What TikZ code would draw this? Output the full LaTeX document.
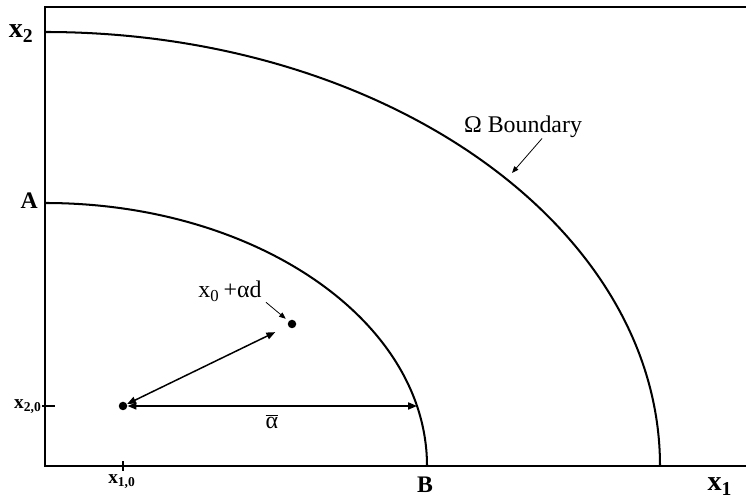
\documentclass[tikz,border=0pt]{standalone}
\usepackage{fontspec}
\setmainfont{Liberation Serif}
\usepackage{tikz}
\usetikzlibrary{arrows.meta, positioning, calc}
\tikzset{
  axis/.style={line width=0.6pt, color=black},
  boundary/.style={line width=1.15pt, color=black},
  dot/.style={circle, fill=black, inner sep=0pt, minimum size=0.17cm},
  dblarrow/.style={{Triangle[length=5pt,width=4pt]}-{Triangle[length=5pt,width=4pt]}, line width=0.85pt},
  pointer/.style={-{Triangle[length=3.8pt,width=3pt]}, line width=0.45pt},
  axlabel/.style={font=\fontsize{16}{18}\selectfont\bfseries, inner sep=0pt},
  ptlabel/.style={font=\fontsize{13.5}{16}\selectfont\bfseries, inner sep=0pt},
  ticklabel/.style={font=\fontsize{11}{13}\selectfont\bfseries, inner sep=0pt},
  txtlabel/.style={font=\fontsize{13.6}{16}\selectfont, inner sep=0pt}
}

\begin{document}
\begin{tikzpicture}[x=0.02cm, y=0.02cm]
  \useasboundingbox (0,0) rectangle (746,499);
  \coordinate (O) at (45,33);
  \coordinate (x1end) at (746,33);
  \coordinate (x2end) at (45,492);
  \coordinate (topend) at (746,492);
  \coordinate (A) at (45,296);
  \coordinate (outer) at (45,467);
  \coordinate (x20) at (45,93);
  \coordinate (x10) at (123,33);
  \coordinate (hit) at (417,93);
  \coordinate (omegatip) at (512,326);

  % axes and frame
  \draw[axis] (x1end) -- (O) -- (x2end) -- (topend);
  \draw[axis] ([xshift=-0.06cm]x20) -- ([xshift=0.2cm]x20);
  \draw[axis] ([yshift=-0.1cm]x10) -- ([yshift=0.1cm]x10);

  % boundaries
  \draw[boundary] (A) arc[start angle=90, end angle=0, x radius=382, y radius=263];
  \draw[boundary] (outer) arc[start angle=90, end angle=0, x radius=615, y radius=434];

  % points
  \node[dot] (x0) at (123,93) {};
  \node[dot] (xd) at (292,175) {};
  \draw[dblarrow, shorten >=8pt] (x0) -- (xd);
  \draw[dblarrow] (x0) -- (hit);

  % labels
  \node[axlabel, anchor=base east] (x2lab) at (34,461) {x\textsubscript{2}};
  \node[axlabel, anchor=base] (x1lab) at (720,8) {x\textsubscript{1}};
  \node[ptlabel, anchor=base east] (Alab) at (38,290) {A};
  \node[ptlabel, anchor=base] (Blab) at (425,6) {B};
  \node[ticklabel, anchor=base east] (x20lab) at (42,90) {x\textsubscript{2,0}};
  \node[ticklabel, anchor=base] (x10lab) at (122,15) {x\textsubscript{1,0}};
  \node[txtlabel, anchor=base] (omega) at (523,366) {Ω Boundary};
  \node[txtlabel, anchor=base] (xdlab) at (230,201) {x\textsubscript{0}\,+αd};
  \node[txtlabel, anchor=base] (alab) at (272,70) {$\overline{\hbox{α}}$};

  \draw[pointer] ([xshift=0.38cm]omega.south) -- (omegatip);
  \draw[pointer, shorten >=2pt] ([xshift=0.72cm]xdlab.south) -- (xd);
\end{tikzpicture}
\end{document}
